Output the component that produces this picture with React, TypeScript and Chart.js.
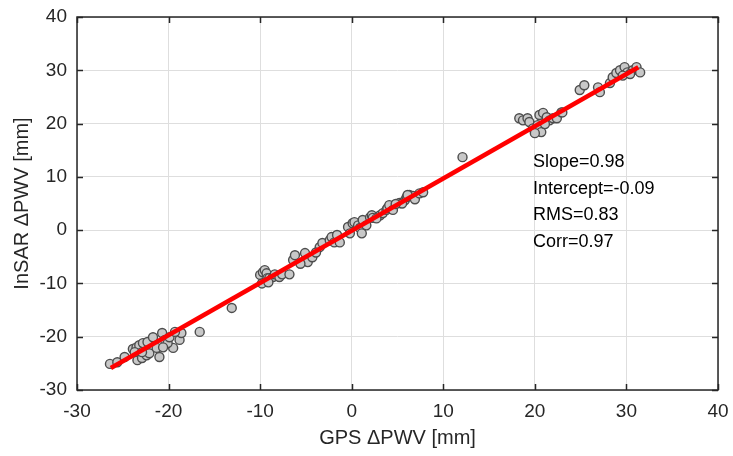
import React, { useEffect, useRef } from "react";
import { Chart, registerables } from "chart.js";

Chart.register(...registerables);

// GPS ΔPWV (x) and InSAR ΔPWV (y) values, mm
const gpsX: number[] = [
  -26.4, -25.6, -24.8, -23.9, -23.5, -23.2, -22.8, -22.3, -21.7, -20.7, -20.4, -19.5, -18.8, -18.6,
  -23.4, -22.9, -22.4, -22.1, -21.3, -20.1, -19.9, -19.3, -16.6, -23.7, -22.9, -21.0, -20.6,
  -13.1,
  -10.0, -9.7, -9.5, -9.3, -9.2, -9.0, -8.6, -8.4, -7.9, -7.6, -6.8, -6.4, -6.2, -9.8, -9.1,
  -5.1, -4.8, -4.3, -3.5, -3.2, -2.4, -2.2, -1.9, -1.6, -1.3, -0.4, -0.2, 0.1, 0.3, 0.7, 0.9,
  1.1, 1.2, 1.6, 2.0, 2.2, 2.3, 3.1, 3.4, 3.8, 3.9, 4.1, 4.5, 5.2, 5.8, 6.0, 6.3, 6.7, 6.9,
  7.4, 7.8, 5.5, 6.1, 4.8, 2.7, -3.9, -5.6,
  12.1,
  18.3, 18.7, 19.2, 19.4, 19.8, 20.2, 20.5, 20.9, 21.3, 21.6, 22.0, 22.4, 22.9, 23.0, 20.3, 20.7, 20.0, 21.1,
  24.9, 25.4, 26.9, 27.1, 28.2, 28.5, 28.9, 29.3, 29.8, 30.1, 30.7, 31.1, 31.5, 29.6, 30.4,
];
const insarY: number[] = [
  -25.1, -24.8, -23.8, -22.3, -22.0, -21.6, -21.2, -21.0, -20.1, -19.3, -20.6, -22.1, -20.6, -19.3,
  -24.4, -24.0, -23.5, -23.1, -22.1, -21.2, -20.1, -19.1, -19.1, -22.9, -22.9, -23.8, -22.0,
  -14.6,
  -8.4, -7.9, -7.5, -8.1, -9.0, -9.0, -8.8, -8.3, -8.8, -8.3, -8.3, -5.6, -4.7, -10.0, -9.8,
  -4.3, -6.0, -5.1, -3.2, -2.4, -1.9, -1.3, -2.3, -0.9, -2.3, 0.6, -0.6, 1.3, 1.5, 0.9, 0.4,
  -0.6, 1.9, 0.9, 2.4, 2.8, 2.3, 2.8, 3.2, 3.8, 4.1, 4.7, 3.8, 5.1, 5.6, 6.2, 6.6, 6.4, 5.8,
  6.9, 7.1, 5.0, 6.6, 4.9, 2.2, -4.2, -6.3,
  13.7,
  21.0, 20.6, 21.0, 20.3, 19.1, 18.8, 21.6, 22.0, 21.2, 20.6, 21.0, 21.0, 22.1, 22.1, 19.7, 18.4, 18.2, 19.9,
  26.3, 27.2, 26.8, 25.9, 27.6, 28.7, 29.5, 30.0, 30.6, 29.6, 30.0, 30.6, 29.6, 29.0, 29.3,
];

const fitX: number[] = [-26.3, 31.3];
const slope = 0.98;
const intercept = -0.09;
const statLines: string[] = ["Slope=0.98", "Intercept=-0.09", "RMS=0.83", "Corr=0.97"];

const xTicks: number[] = [-30, -20, -10, 0, 10, 20, 30, 40];
const yTicks: number[] = [-30, -20, -10, 0, 10, 20, 30, 40];

const FONT = "'Liberation Sans', Arial, sans-serif";
const AXIS_COLOR = "#262626";

export default function App() {
  const ref = useRef<HTMLCanvasElement | null>(null);

  useEffect(() => {
    if (!ref.current) return;
    const points = gpsX.map((x, i) => ({ x, y: insarY[i] }));
    const fit = fitX.map((x) => ({ x, y: slope * x + intercept }));

    const boxPlugin = {
      id: "boxPlugin",
      afterDraw(chart: any) {
        const { ctx, chartArea } = chart;
        const { left, right, top, bottom } = chartArea;
        const xs = chart.scales.x;
        const ys = chart.scales.y;
        ctx.save();
        ctx.strokeStyle = AXIS_COLOR;
        ctx.lineWidth = 1.5;
        ctx.beginPath();
        const tl = 6;
        xTicks.forEach((v) => {
          const px = Math.round(xs.getPixelForValue(v)) + 0.5;
          ctx.moveTo(px, bottom);
          ctx.lineTo(px, bottom - tl);
          ctx.moveTo(px, top);
          ctx.lineTo(px, top + tl);
        });
        yTicks.forEach((v) => {
          const py = Math.round(ys.getPixelForValue(v)) + 0.5;
          ctx.moveTo(left, py);
          ctx.lineTo(left + tl, py);
          ctx.moveTo(right, py);
          ctx.lineTo(right - tl, py);
        });
        ctx.stroke();
        ctx.strokeRect(left, top, right - left, bottom - top);
        // stats text
        ctx.fillStyle = "#000000";
        ctx.font = `18px ${FONT}`;
        ctx.textBaseline = "middle";
        ctx.textAlign = "left";
        statLines.forEach((s, i) => {
          ctx.fillText(s, 533, 162 + i * 26.7);
        });
        ctx.restore();
      },
    };

    const chart = new Chart(ref.current, {
      type: "scatter",
      data: {
        datasets: [
          {
            type: "line",
            data: fit,
            borderColor: "#ff0000",
            borderWidth: 4.5,
            pointRadius: 0,
            showLine: true,
            order: 0,
          } as any,
          {
            type: "scatter",
            data: points,
            backgroundColor: "#c8c8c8",
            borderColor: "#4d4d4d",
            borderWidth: 1.4,
            pointRadius: 4.5,
            order: 1,
          },
        ],
      },
      options: {
        animation: false,
        responsive: false,
        devicePixelRatio: 1,
        layout: { padding: { top: 17, right: 15, left: 0, bottom: 0 } },
        plugins: { legend: { display: false }, tooltip: { enabled: false } },
        scales: {
          x: {
            type: "linear",
            min: -30,
            max: 40,
            afterBuildTicks: (s: any) => {
              s.ticks = xTicks.map((v) => ({ value: v }));
            },
            afterFit: (s: any) => {
              s.height = 66;
              s.paddingLeft = 0;
              s.paddingRight = 0;
            },
            grid: { color: "#dedede", lineWidth: 1, drawTicks: false },
            border: { display: false },
            ticks: {
              color: AXIS_COLOR,
              font: { family: FONT, size: 19 },
              padding: 10,
              maxRotation: 0,
            },
            title: {
              display: true,
              text: "GPS ΔPWV [mm]",
              color: AXIS_COLOR,
              font: { family: FONT, size: 20 },
              padding: { top: 6, bottom: 6 },
            },
          },
          y: {
            type: "linear",
            min: -30,
            max: 40,
            afterBuildTicks: (s: any) => {
              s.ticks = yTicks.map((v) => ({ value: v }));
            },
            afterFit: (s: any) => {
              s.width = 77;
              s.paddingTop = 0;
              s.paddingBottom = 0;
            },
            grid: { color: "#dedede", lineWidth: 1, drawTicks: false },
            border: { display: false },
            ticks: {
              color: AXIS_COLOR,
              font: { family: FONT, size: 19 },
              padding: 10,
            },
            title: {
              display: true,
              text: "InSAR ΔPWV [mm]",
              color: AXIS_COLOR,
              font: { family: FONT, size: 20 },
              padding: { top: 10, bottom: 10 },
            },
          },
        },
      },
      plugins: [boxPlugin],
    });
    return () => chart.destroy();
  }, []);

  return (
    <div style={{ position: "fixed", left: 0, top: 0, width: 733, height: 456, background: "#fff" }}>
      <canvas ref={ref} width={733} height={456} style={{ width: 733, height: 456 }} />
    </div>
  );
}
